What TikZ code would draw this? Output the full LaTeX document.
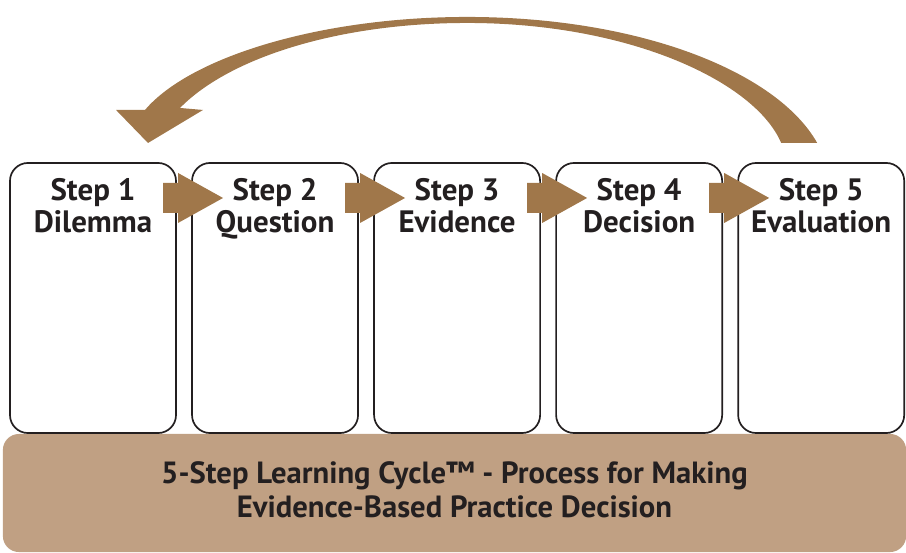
\documentclass[tikz,border=0pt]{standalone}
\usepackage{fontspec}
\setmainfont{PT Sans}
\usepackage{xcolor}
\usepackage{tikz}
\usetikzlibrary{calc,positioning}

\definecolor{cyclebrown}{HTML}{A0774A}
\definecolor{cycletan}{HTML}{C0A083}
\definecolor{inkblack}{HTML}{231F20}

\tikzset{
  stepbox/.style={draw=inkblack,line width=1.2pt,rounded corners=0.45cm,
    minimum width=4.15cm,minimum height=6.75cm,inner sep=0pt,outer sep=0pt},
  steptext/.style={anchor=north,align=center,inner sep=0pt,text=inkblack,
    font=\bfseries\fontsize{22}{22.8}\selectfont},
  flow/.style={fill=cyclebrown},
  band/.style={fill=cycletan,rounded corners=0.4cm,minimum width=22.575cm,
    minimum height=2.95cm,inner sep=0pt},
  bandtext/.style={align=center,inner sep=0pt,text=inkblack,
    font=\bfseries\fontsize{21.8}{24.2}\selectfont},
}

\begin{document}
\begin{tikzpicture}[x=0.025cm,y=0.025cm]
	\useasboundingbox (0,0) rectangle (906,552);
	% base band with the title
	\node[band] (base) at (454.5,59) {};
	\node[bandtext] (title) at ($(base.center)+(0,3)$) {5-Step Learning Cycle™ - Process for Making\\Evidence-Based Practice Decision};
	% the five steps
	\node[stepbox] (s1) at (93,254) {};
	\node[stepbox,right=0.4cm of s1] (s2) {};
	\node[stepbox,right=0.4cm of s2] (s3) {};
	\node[stepbox,right=0.4cm of s3] (s4) {};
	\node[stepbox,right=0.4cm of s4] (s5) {};
	\node[steptext] (t1) at ($(s1.north)+(0,-15)$) {Step 1\\Dilemma};
	\node[steptext] (t2) at ($(s2.north)+(0,-15)$) {Step 2\\Question};
	\node[steptext] (t3) at ($(s3.north)+(0,-15)$) {Step 3\\Evidence};
	\node[steptext] (t4) at ($(s4.north)+(0,-15)$) {Step 4\\Decision};
	\node[steptext] (t5) at ($(s5.north)+(0,-15)$) {Step 5\\Evaluation};
	% block arrows between steps
	\fill[flow] ($(s1.north east)+(-13,-20)$) -- ++(15,0) -- ++(0,10) -- ($(s2.north west)+(31,-35)$) -- ($(s1.north east)+(2,-60)$) -- ++(0,10) -- ++(-15,0) -- cycle;
	\fill[flow] ($(s2.north east)+(-13,-20)$) -- ++(15,0) -- ++(0,10) -- ($(s3.north west)+(31,-35)$) -- ($(s2.north east)+(2,-60)$) -- ++(0,10) -- ++(-15,0) -- cycle;
	\fill[flow] ($(s3.north east)+(-13,-20)$) -- ++(15,0) -- ++(0,10) -- ($(s4.north west)+(31,-35)$) -- ($(s3.north east)+(2,-60)$) -- ++(0,10) -- ++(-15,0) -- cycle;
	\fill[flow] ($(s4.north east)+(-13,-20)$) -- ++(15,0) -- ++(0,10) -- ($(s5.north west)+(31,-35)$) -- ($(s4.north east)+(2,-60)$) -- ++(0,10) -- ++(-15,0) -- cycle;
	% loop back from step 5 to step 1
	\coordinate (loop top) at ($(s1.north)!0.5!(s5.north)+(10,146)$);
	\fill[flow] ($(s5.north)+(-4,20)$) .. controls +(-40,71) and +(173,0) .. (loop top)
		.. controls +(-147,0) and +(45,53) .. ($(s1.north)+(52,53)$)
		-- ($(s1.north)+(23,53)$) -- ($(s1.north)+(55,20)$) -- ($(s1.north)+(110,53)$) -- ($(s1.north)+(87,55)$)
		.. controls +(50,51) and +(-127,0) .. ($(loop top)+(0,-6)$)
		.. controls +(163,0) and +(-26,61) .. ($(s5.north)+(-40,20)$) -- cycle;
\end{tikzpicture}
\end{document}
